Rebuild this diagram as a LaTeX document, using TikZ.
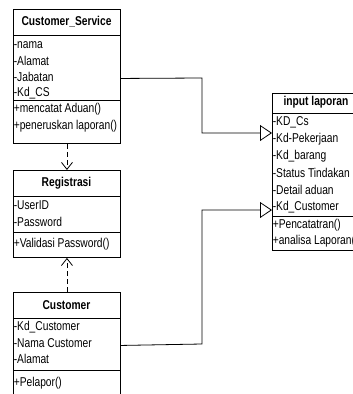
\documentclass[tikz,border=0pt]{standalone}
\usepackage{fontspec}
\setmainfont{Liberation Sans}[FakeStretch=0.80]
\usetikzlibrary{arrows.meta}
\begin{document}
\begin{tikzpicture}[x=1pt,y=-1pt,
  classbox/.style={draw, line width=0.9pt, inner sep=0pt, anchor=north west},
  attr/.style={anchor=west, inner sep=0.6pt, font=\fontsize{12.8}{14}\selectfont},
  ttl/.style={inner sep=0pt, font=\bfseries\fontsize{12.8}{14}\selectfont},
  divider/.style={line width=0.9pt},
  conn/.style={line width=0.8pt, -{Triangle[open, length=12pt, width=16pt, line width=0.8pt]}},
  dashconn/.style={line width=0.8pt, dash pattern=on 5pt off 3pt, -{Straight Barb[length=7pt, width=11pt, line width=0.8pt]}}
]
\useasboundingbox (0,0) rectangle (353,394);
\clip (0,0) rectangle (353,394);
\fill[white] (0,0) rectangle (353,394);

% Customer_Service
\node[classbox, minimum width=107pt, minimum height=134pt] (cs) at (13,9) {};
\draw[divider] (13,35) -- (120,35);
\draw[divider] (13,100) -- (120,100);
\node[ttl] (csT) at (66.5,22) {Customer\_Service};
\node[attr] (cs1) at (13,45) {-nama};
\node[attr] (cs2) at (13,61) {-Alamat};
\node[attr] (cs3) at (13,77) {-Jabatan};
\node[attr] (cs4) at (13,93) {-Kd\_CS};
\node[attr] (cs5) at (13,109) {+mencatat Aduan()};
\node[attr] (cs6) at (13,126) {+peneruskan laporan()};

% Registrasi
\node[classbox, minimum width=107pt, minimum height=87pt] (reg) at (13,170) {};
\draw[divider] (13,196) -- (120,196);
\draw[divider] (13,232) -- (120,232);
\node[ttl] (regT) at (66.5,183) {Registrasi};
\node[attr] (reg1) at (13,205) {-UserID};
\node[attr] (reg2) at (13,222) {-Password};
\node[attr] (reg3) at (13,244) {+Validasi Password()};

% Customer
\node[classbox, minimum width=107pt, minimum height=110pt] (cust) at (13,292) {};
\draw[divider] (13,318) -- (120,318);
\draw[divider] (13,370) -- (120,370);
\node[ttl] (custT) at (66.5,305) {Customer};
\node[attr] (cu1) at (13,327) {-Kd\_Customer};
\node[attr] (cu2) at (13,343) {-Nama Customer};
\node[attr] (cu3) at (13,359) {-Alamat};
\node[attr] (cu4) at (13,383) {+Pelapor()};

% input laporan
\node[classbox, minimum width=95pt, minimum height=157pt] (ilp) at (272,93) {};
\draw[divider] (272,113) -- (367,113);
\draw[divider] (272,216) -- (367,216);
\node[ttl] (ilpT) at (316,102) {input laporan};
\node[attr] (il1) at (272,122) {-KD\_Cs};
\node[attr] (il2) at (272,139) {-Kd-Pekerjaan};
\node[attr] (il3) at (272,156) {-Kd\_barang};
\node[attr] (il4) at (272,173) {-Status Tindakan};
\node[attr] (il5) at (272,190) {-Detail aduan};
\node[attr] (il6) at (272,207) {-Kd\_Customer};
\node[attr] (il7) at (272,225) {+Pencatatran()};
\node[attr] (il8) at (272,241) {+analisa Laporan()};

% connectors
\draw[conn] ([yshift=-2pt]cs.east) -- (202,78) -- (202,133) -- (ilp.west |- 0,133);
\draw[conn] ([yshift=2pt]cust.east) -- (202,344) -- (202,210) -- (ilp.west |- 0,210);
\draw[dashconn] (cs.south) -- (reg.north);
\draw[dashconn] (cust.north) -- (reg.south);
\end{tikzpicture}
\end{document}
